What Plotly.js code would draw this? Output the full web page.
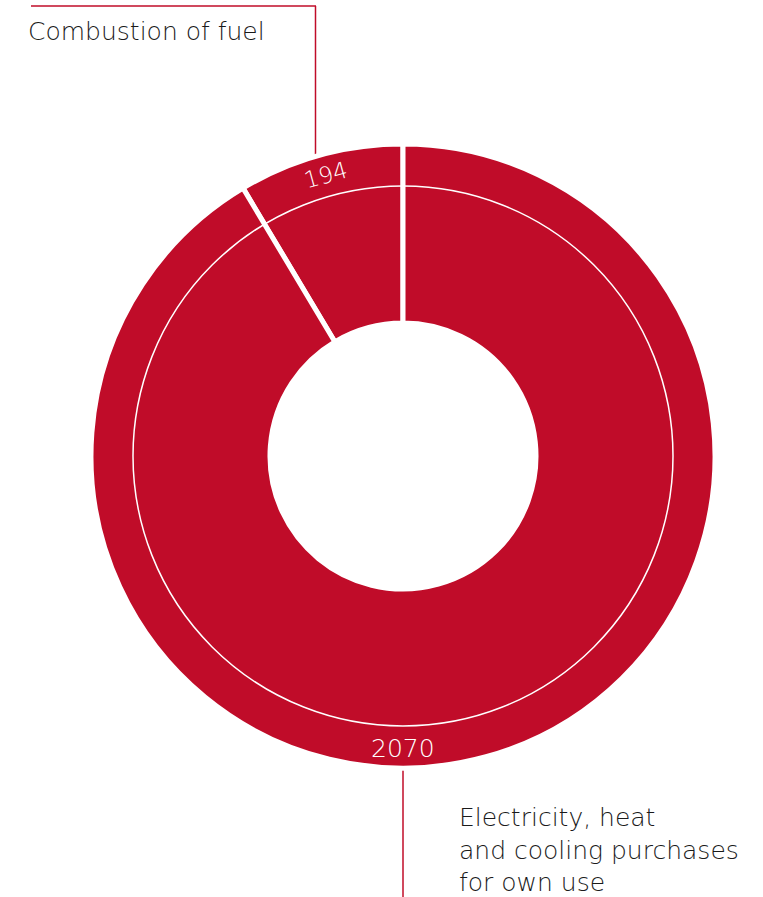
<!DOCTYPE html>
<html><head><meta charset="utf-8">
<script src="https://cdn.plot.ly/plotly-3.0.1.min.js"></script>
<style>html,body{margin:0;padding:0;background:#fff;}#chart{width:763px;height:897px;}</style>
</head><body><div id="chart"></div>
<script>
const categories = ["Combustion of fuel", "Electricity, heat<br>and cooling purchases<br>for own use"];
const values = [194, 2070];
const valueLabels = ["194", "2070"];

const RED = "#C00C29";
const W = 763, H = 897;
const cx = 403, cy = 456, R = 312, Rline = 270, Rlab = 290;

function dom(r){ return {x:[(cx-r)/W,(cx+r)/W], y:[(H-cy-r)/H,(H-cy+r)/H]}; }

const total = values.reduce((a,b)=>a+b,0);
const firstDeg = values[0]/total*360;

const traces = [
  {type:'pie', values: values, labels: categories, sort:false, direction:'clockwise', rotation:-firstDeg,
   hole: 133/R, domain: dom(R), marker:{colors:[RED,RED], line:{color:'#fff', width:5}},
   textinfo:'none', hoverinfo:'label+value', showlegend:false},
  {type:'pie', values:[1], labels:['ring'], sort:false, hole:0, domain: dom(Rline),
   marker:{colors:['rgba(0,0,0,0)'], line:{color:'#fff', width:1.5}},
   textinfo:'none', hoverinfo:'skip', showlegend:false}
];

const a0 = (values[0]/2)/total*2*Math.PI;
const lab1 = {x: cx - Rlab*Math.sin(a0), y: cy - Rlab*Math.cos(a0) - 1};
const lab2 = {x: cx, y: cy + Rlab + 2};

const font = "'DejaVu Sans', sans-serif";
const annotations = [
  {xref:'paper', yref:'paper', x: lab1.x/W, y:(H-lab1.y)/H, text: valueLabels[0], showarrow:false,
   textangle: -a0*180/Math.PI, font:{family:font, size:23, color:'#fff', weight:300}, xanchor:'center', yanchor:'middle'},
  {xref:'paper', yref:'paper', x: lab2.x/W, y:(H-lab2.y)/H, text: valueLabels[1], showarrow:false,
   font:{family:font, size:25, color:'#fff', weight:300}, xanchor:'center', yanchor:'middle'},
  {xref:'paper', yref:'paper', x: 26/W, y:(H-31)/H, text: categories[0], showarrow:false,
   font:{family:font, size:25, color:'#1a1a1a', weight:300}, xanchor:'left', yanchor:'middle', align:'left'},
  {xref:'paper', yref:'paper', x: 457/W, y:(H-850)/H, text: categories[1], showarrow:false,
   font:{family:font, size:25, color:'#1a1a1a', weight:300}, xanchor:'left', yanchor:'middle', align:'left'}
];

const shapes = [
  {type:'line', xref:'paper', yref:'paper', x0:31/W, x1:316/W, y0:(H-6)/H, y1:(H-6)/H, line:{color:RED, width:1.5}},
  {type:'line', xref:'paper', yref:'paper', x0:315.5/W, x1:315.5/W, y0:(H-6)/H, y1:(H-158)/H, line:{color:RED, width:1.5}, layer:'below'},
  {type:'line', xref:'paper', yref:'paper', x0:403/W, x1:403/W, y0:(H-765)/H, y1:0, line:{color:RED, width:1.5}, layer:'below'}
];

Plotly.newPlot('chart', traces, {
  width: W, height: H, margin:{l:0,r:0,t:0,b:0},
  paper_bgcolor:'#fff', plot_bgcolor:'#fff', showlegend:false,
  annotations: annotations, shapes: shapes
}, {displayModeBar:false, staticPlot:true});
</script></body></html>
